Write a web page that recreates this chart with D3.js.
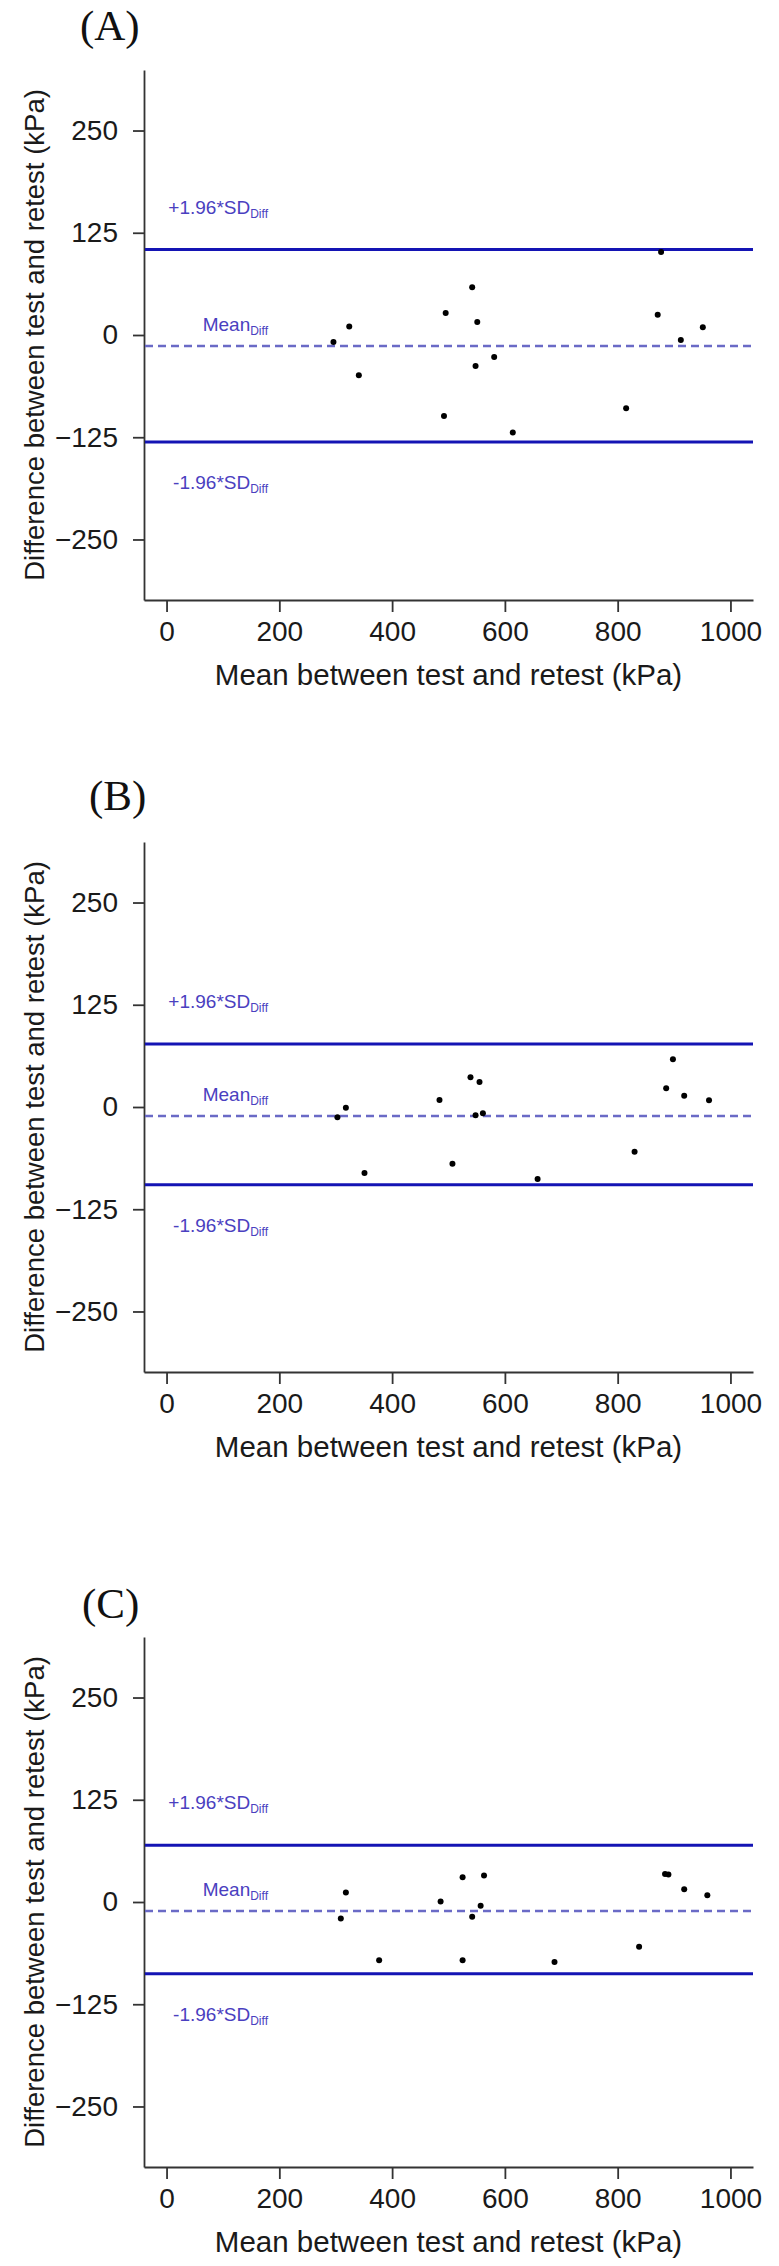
<!DOCTYPE html>
<html>
<head>
<meta charset="utf-8">
<script src="https://cdn.jsdelivr.net/npm/d3@7"></script>
<style>
  body { margin: 0; background: #fff; }
  svg text { font-family: "Liberation Sans", Arial, sans-serif; }
</style>
</head>
<body>
<script>
// Chart data
const panelNames = ["(A)", "(B)", "(C)"];
const xTickValues = [0, 200, 400, 600, 800, 1000];
const yTickValues = [250, 125, 0, -125, -250];
const lineLabels = ["+1.96*SD", "Mean", "-1.96*SD"];
const lineSubscript = "Diff";

const meanA = [296, 324, 341, 492, 495, 542, 548, 551, 581, 614, 815, 871, 877, 912, 951];
const diffA = [-8.6, 10.3, -49.3, -99, 26.9, 58.3, -37.9, 15.9, -26.9, -119.3, -89.6, 24.9, 101.5, -6.1, 9.5];

const meanB = [303, 318, 351, 484, 507, 539, 548, 555, 561, 658, 830, 886, 898, 918, 962];
const diffB = [-12.6, -0.9, -80.7, 8.5, -69.3, 36.3, -10.2, 30.5, -7.7, -88, -54.7, 22.8, 58.3, 13.8, 8.3];

const meanC = [309, 318, 377, 486, 525, 525, 542, 557, 563, 688, 838, 884, 890, 918, 959];
const diffC = [-20.1, 11.6, -71.3, 0.6, 30.3, -71.3, -18.1, -4.7, 32.3, -73.4, -54.7, 34.3, 33.5, 15.6, 8.3];

const meanDiff = [-13.4, -11, -11];
const upperLimit = [104.4, 77, 69.3];
const lowerLimit = [-130.8, -95, -87.8];

//Canvas
const width = 779;
const height = 2266;

const svg = d3
  .select("body")
  .append("svg")
  .attr("width", width)
  .attr("height", height);

// layout of each panel (plot top, name position)
const panelLayout = [
  { top: 70, nameX: 80, nameY: 40 },
  { top: 842, nameX: 89, nameY: 810 },
  { top: 1637, nameX: 82, nameY: 1618 },
];
const plotLeft = 144;
const plotRight = 753;
const plotHeight = 530;

const xScale = d3.scaleLinear().domain([-40, 1040]).range([plotLeft, plotRight]);

const drawPanel = (i, xs, ys) => {
  const lay = panelLayout[i];
  const top = lay.top;
  const bottom = top + plotHeight;

  const yScale = d3.scaleLinear().domain([-324, 324]).range([bottom, top]);
  const g = svg.append("g");

  //Panel name
  g.append("text")
    .attr("x", lay.nameX)
    .attr("y", lay.nameY)
    .style("font-family", '"Liberation Serif", "Times New Roman", serif')
    .style("font-size", "43px")
    .attr("fill", "#111")
    .text(panelNames[i]);

  //Axes
  const xAxis = d3
    .axisBottom(xScale)
    .tickValues(xTickValues)
    .tickFormat(d3.format("d"))
    .tickSize(12)
    .tickSizeOuter(0)
    .tickPadding(9);
  const yAxis = d3
    .axisLeft(yScale)
    .tickValues(yTickValues)
    .tickFormat(d3.format("d"))
    .tickSize(11)
    .tickSizeOuter(0)
    .tickPadding(15);

  const xg = g
    .append("g")
    .attr("transform", "translate(0," + bottom + ")")
    .call(xAxis);
  const yg = g
    .append("g")
    .attr("transform", "translate(" + plotLeft + ",0)")
    .call(yAxis);

  [xg, yg].forEach((ax) => {
    ax.select(".domain").attr("stroke", "#333").attr("stroke-width", 1.8);
    ax.selectAll(".tick line").attr("stroke", "#333").attr("stroke-width", 1.8);
    ax.selectAll(".tick text")
      .attr("fill", "#1a1a1a")
      .style("font-size", "28px")
      .style("font-family", '"Liberation Sans", Arial, sans-serif');
  });

  //Axis titles
  g.append("text")
    .attr("x", (plotLeft + plotRight) / 2)
    .attr("y", bottom + 85)
    .attr("text-anchor", "middle")
    .attr("fill", "#1a1a1a")
    .style("font-size", "29.5px")
    .text("Mean between test and retest (kPa)");

  g.append("text")
    .attr("transform", "translate(44," + (top + bottom) / 2 + ") rotate(-90)")
    .attr("text-anchor", "middle")
    .attr("fill", "#1a1a1a")
    .style("font-size", "27.5px")
    .text("Difference between test and retest (kPa)");

  //Limit lines
  const refLines = [
    { v: upperLimit[i], dash: null, color: "#1414b4", w: 3, off: -36 },
    { v: meanDiff[i], dash: "8,5", color: "#6a6ac6", w: 2.5, off: -15 },
    { v: lowerLimit[i], dash: null, color: "#1414b4", w: 3, off: 47 },
  ];

  refLines.forEach((r, k) => {
    g.append("line")
      .attr("x1", plotLeft + 1)
      .attr("x2", plotRight)
      .attr("y1", yScale(r.v))
      .attr("y2", yScale(r.v))
      .attr("stroke", r.color)
      .attr("stroke-width", r.w)
      .attr("stroke-dasharray", r.dash);

    const label = g
      .append("text")
      .attr("x", 268)
      .attr("y", yScale(r.v) + r.off)
      .attr("text-anchor", "end")
      .attr("fill", "#4a40c0")
      .style("font-size", "19px");
    label.append("tspan").text(lineLabels[k]);
    label
      .append("tspan")
      .attr("dy", 4)
      .style("font-size", "12px")
      .text(lineSubscript);
  });

  //Points
  g.selectAll(".dot")
    .data(xs.map((x, j) => [x, ys[j]]))
    .enter()
    .append("circle")
    .attr("class", "dot")
    .attr("cx", (d) => xScale(d[0]))
    .attr("cy", (d) => yScale(d[1]))
    .attr("r", 3)
    .attr("fill", "#000");
};

drawPanel(0, meanA, diffA);
drawPanel(1, meanB, diffB);
drawPanel(2, meanC, diffC);
</script>
</body>
</html>
